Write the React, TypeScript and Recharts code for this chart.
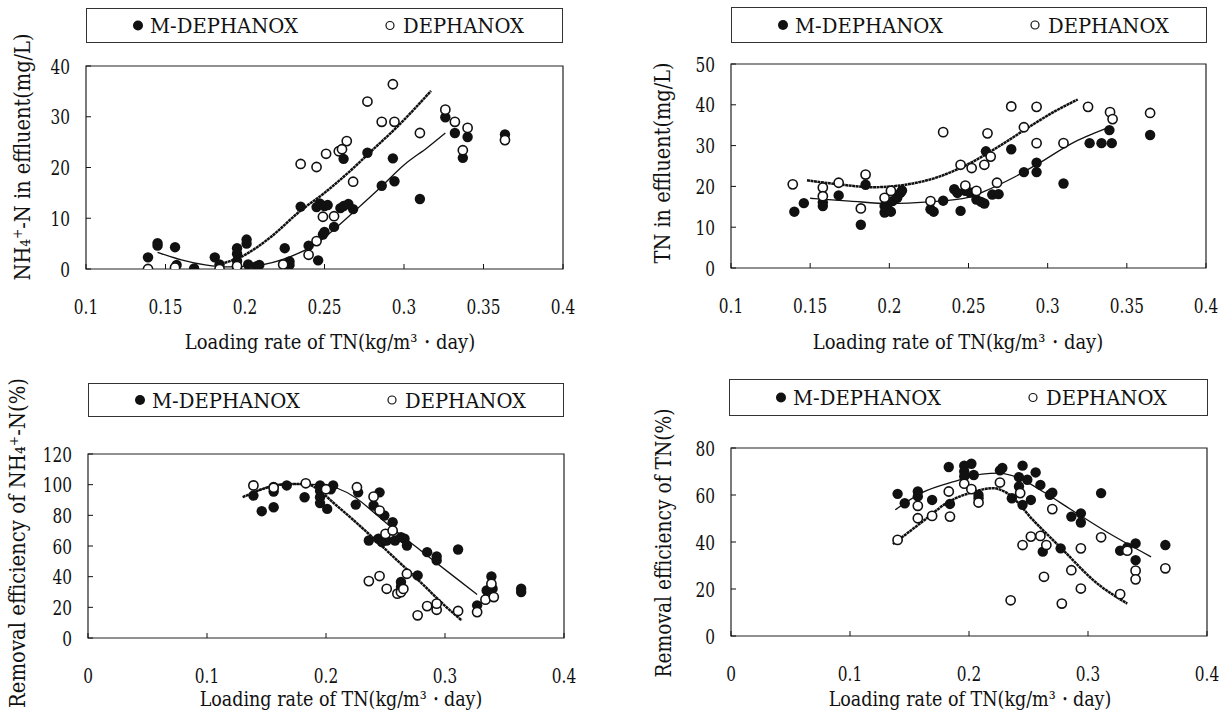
import React from "react";
import { ComposedChart, Scatter, Line, XAxis, YAxis, ReferenceArea, Label } from "recharts";

type Pt = [number, number];

// ---------- ticks ----------
const X_TICKS_TOP = [0.1, 0.15, 0.2, 0.25, 0.3, 0.35, 0.4];
const X_TICKS_BOTTOM = [0, 0.1, 0.2, 0.3, 0.4];
const Y_TICKS_NH4 = [0, 10, 20, 30, 40];
const Y_TICKS_TN = [0, 10, 20, 30, 40, 50];
const Y_TICKS_NH4_REM = [0, 20, 40, 60, 80, 100, 120];
const Y_TICKS_TN_REM = [0, 20, 40, 60, 80];

const SERIES_M = "M-DEPHANOX";
const SERIES_D = "DEPHANOX";

const X_TITLE = "Loading rate of TN(kg/m³・day)";
const Y_TITLE_NH4 = "NH₄⁺-N in effluent(mg/L)";
const Y_TITLE_TN = "TN in effluent(mg/L)";
const Y_TITLE_NH4_REM = "Removal efficiency of NH₄⁺-N(%)";
const Y_TITLE_TN_REM = "Removal efficiency of TN(%)";

// ---------- panel 1: NH4+-N in effluent ----------
const NH4_EFF_M: Pt[] = [
  [0.139, 2.3], [0.145, 5.1], [0.145, 4.6], [0.156, 4.3], [0.157, 0.8], [0.168, 0.1], [0.181, 2.3], [0.184, 0.9],
  [0.195, 4.1], [0.195, 3.0], [0.195, 1.6], [0.195, 0.3], [0.201, 5.8], [0.201, 5.0], [0.202, 0.9], [0.207, 0.5],
  [0.209, 0.8], [0.225, 4.1], [0.228, 1.5], [0.228, 0.8], [0.235, 12.3], [0.24, 4.6], [0.245, 12.2], [0.247, 12.9],
  [0.25, 12.4], [0.252, 12.6], [0.246, 1.7], [0.249, 6.8], [0.25, 7.3], [0.256, 8.3], [0.26, 12.0], [0.262, 12.4],
  [0.262, 21.7], [0.265, 12.8], [0.268, 11.8], [0.277, 22.9], [0.286, 16.4], [0.293, 21.8], [0.294, 17.3], [0.31, 13.8],
  [0.326, 29.9], [0.332, 26.8], [0.337, 21.9], [0.34, 26.0], [0.3635, 26.5],
];
const NH4_EFF_D: Pt[] = [
  [0.139, 0], [0.156, 0.3], [0.184, 0], [0.195, 0.6], [0.224, 0.9], [0.235, 20.7], [0.24, 2.8], [0.245, 20.1],
  [0.245, 5.5], [0.249, 10.3], [0.251, 22.7], [0.256, 10.4], [0.259, 23.2], [0.261, 23.6], [0.264, 25.2], [0.268, 17.2],
  [0.277, 33.0], [0.286, 29.0], [0.293, 36.4], [0.294, 29.0], [0.31, 26.8], [0.326, 31.4], [0.332, 29.0], [0.337, 23.4],
  [0.34, 27.8], [0.3635, 25.4],
];
const NH4_EFF_M_FIT: Pt[] = [
  [0.145, 3.3], [0.16, 1.8], [0.175, 0.8], [0.19, 0.4], [0.205, 0.6], [0.229, 2.5], [0.244, 4.8], [0.256, 7.8],
  [0.27, 11.7], [0.285, 16.0], [0.3, 20.5], [0.315, 24.0], [0.326, 26.8],
];
const NH4_EFF_D_FIT: Pt[] = [
  [0.185, 1.0], [0.2, 2.8], [0.215, 6.0], [0.235, 11.5], [0.25, 15.0], [0.265, 19.0], [0.28, 23.4], [0.295, 27.8], [0.317, 35.1],
];

// ---------- panel 2: TN in effluent ----------
const TN_EFF_M: Pt[] = [
  [0.14, 13.8], [0.146, 15.9], [0.158, 15.2], [0.158, 16.1], [0.168, 17.8], [0.182, 10.6], [0.185, 20.4], [0.197, 13.6],
  [0.197, 15.2], [0.199, 14.5], [0.201, 13.8], [0.202, 16.4], [0.205, 17.2], [0.207, 18.4], [0.208, 19.0], [0.226, 14.4],
  [0.228, 13.8], [0.234, 16.5], [0.241, 19.3], [0.243, 18.4], [0.245, 14.0], [0.248, 18.9], [0.251, 18.5], [0.255, 16.8],
  [0.258, 16.2], [0.26, 15.8], [0.261, 28.6], [0.265, 18.0], [0.269, 18.1], [0.277, 29.1], [0.285, 23.5], [0.293, 25.8],
  [0.293, 23.5], [0.31, 20.7], [0.3265, 30.6], [0.334, 30.6], [0.339, 33.8], [0.3405, 30.6], [0.3647, 32.6],
];
const TN_EFF_D: Pt[] = [
  [0.139, 20.5], [0.158, 19.7], [0.158, 17.6], [0.168, 20.9], [0.182, 14.6], [0.185, 22.9], [0.197, 17.2], [0.201, 18.9],
  [0.226, 16.4], [0.234, 33.3], [0.245, 25.3], [0.248, 20.2], [0.252, 24.5], [0.255, 18.9], [0.26, 25.3], [0.262, 33.0],
  [0.264, 27.3], [0.268, 20.9], [0.277, 39.6], [0.285, 34.5], [0.293, 39.5], [0.293, 30.6], [0.31, 30.6], [0.3255, 39.5],
  [0.3394, 38.2], [0.341, 36.5], [0.3647, 38.0],
];
const TN_EFF_M_FIT: Pt[] = [
  [0.15, 17.1], [0.175, 16.4], [0.2, 15.8], [0.225, 16.2], [0.25, 17.3], [0.26, 18.8], [0.28, 22.5], [0.295, 25.8],
  [0.315, 30.5], [0.337, 34.2],
];
const TN_EFF_D_FIT: Pt[] = [
  [0.148, 21.5], [0.168, 20.5], [0.19, 19.8], [0.21, 20.4], [0.23, 22.2], [0.25, 25.5], [0.27, 30.0], [0.29, 35.0],
  [0.305, 38.5], [0.319, 41.3],
];

// ---------- panel 3: removal efficiency of NH4+-N ----------
const NH4_REM_M: Pt[] = [
  [0.139, 92.9], [0.146, 82.7], [0.156, 85.3], [0.156, 95.5], [0.156, 98.5], [0.167, 99.5], [0.182, 91.8], [0.195, 99.5],
  [0.195, 96.0], [0.195, 91.8], [0.195, 88.0], [0.201, 84.2], [0.204, 97.0], [0.206, 99.5], [0.225, 87.0], [0.227, 95.0],
  [0.236, 63.6], [0.24, 86.4], [0.245, 95.0], [0.244, 64.7], [0.247, 62.5], [0.249, 79.9], [0.251, 63.6], [0.256, 75.5],
  [0.258, 63.6], [0.263, 65.8], [0.263, 36.5], [0.263, 33.5], [0.266, 64.7], [0.268, 60.3], [0.277, 40.8], [0.285, 56.0],
  [0.293, 53.2], [0.293, 50.6], [0.311, 57.7], [0.327, 21.3], [0.335, 31.0], [0.339, 40.1], [0.34, 32.1], [0.364, 32.1],
  [0.364, 30.0],
];
const NH4_REM_D: Pt[] = [
  [0.139, 99.5], [0.156, 98.0], [0.183, 100.9], [0.2, 97.0], [0.226, 98.3], [0.236, 37.1], [0.24, 92.2], [0.245, 40.4],
  [0.245, 83.1], [0.25, 67.9], [0.251, 32.1], [0.256, 70.1], [0.26, 28.9], [0.263, 29.9], [0.265, 32.0], [0.268, 41.9],
  [0.277, 14.8], [0.285, 20.8], [0.293, 18.4], [0.293, 22.4], [0.311, 17.6], [0.327, 16.9], [0.334, 25.0], [0.339, 35.4],
  [0.341, 26.7],
];
const NH4_REM_M_FIT: Pt[] = [
  [0.139, 95.0], [0.165, 100.5], [0.195, 100.0], [0.21, 97.5], [0.225, 91.5], [0.24, 82.0], [0.26, 69.0], [0.283, 55.0],
  [0.306, 41.0], [0.327, 28.4],
];
const NH4_REM_D_FIT: Pt[] = [
  [0.13, 91.8], [0.15, 98.0], [0.17, 100.5], [0.185, 100.0], [0.195, 96.0], [0.205, 89.0], [0.22, 79.0], [0.24, 65.0],
  [0.26, 50.5], [0.28, 36.0], [0.3, 21.0], [0.314, 11.5],
];

// ---------- panel 4: removal efficiency of TN ----------
const TN_REM_M: Pt[] = [
  [0.14, 60.5], [0.146, 56.5], [0.157, 61.5], [0.157, 59.4], [0.169, 57.9], [0.183, 71.9], [0.184, 56.2], [0.196, 72.5],
  [0.196, 70.0], [0.196, 67.9], [0.202, 73.3], [0.204, 68.5], [0.208, 58.6], [0.208, 60.0], [0.226, 70.5], [0.228, 71.5],
  [0.236, 58.6], [0.242, 67.6], [0.242, 63.6], [0.245, 72.5], [0.245, 55.8], [0.249, 66.5], [0.252, 57.9], [0.256, 69.6],
  [0.26, 64.3], [0.262, 35.9], [0.268, 60.1], [0.27, 61.0], [0.277, 37.3], [0.286, 50.8], [0.294, 52.2], [0.294, 48.3],
  [0.311, 60.8], [0.327, 36.3], [0.333, 37.7], [0.34, 39.4], [0.34, 32.3], [0.365, 38.7],
];
const TN_REM_D: Pt[] = [
  [0.14, 40.9], [0.157, 55.4], [0.157, 50.1], [0.169, 51.1], [0.183, 61.5], [0.184, 50.8], [0.196, 64.8], [0.202, 62.5],
  [0.208, 56.8], [0.226, 65.3], [0.235, 15.2], [0.243, 60.8], [0.245, 38.7], [0.252, 42.3], [0.26, 42.6], [0.263, 25.2],
  [0.265, 38.7], [0.27, 54.0], [0.278, 13.8], [0.286, 28.0], [0.294, 37.3], [0.294, 20.2], [0.311, 42.0], [0.327, 17.8],
  [0.333, 36.3], [0.34, 27.8], [0.34, 24.1], [0.365, 28.8],
];
const TN_REM_M_FIT: Pt[] = [
  [0.138, 53.7], [0.161, 61.1], [0.188, 65.8], [0.211, 68.9], [0.225, 69.3], [0.242, 67.2], [0.262, 61.5], [0.286, 53.7],
  [0.313, 45.1], [0.353, 33.7],
];
const TN_REM_D_FIT: Pt[] = [
  [0.136, 39.1], [0.161, 48.7], [0.181, 56.5], [0.205, 61.5], [0.22, 62.9], [0.232, 60.8], [0.255, 48.7], [0.279, 36.6],
  [0.306, 23.1], [0.333, 13.8],
];

// ---------- styling ----------
const FONT = "DejaVu Serif";
const INK = "#111";
const TICK_FONT = 21;
const TICK_SQUEEZE = 0.73;
const PAGE_W = 1226;

const toObj = (arr: Pt[]) => arr.map(([x, y]) => ({ x, y }));

// text squeezed horizontally (via transform) to a target length, optionally rotated
function FitText(props: { x: number; y: number; rotate: number; target: number; fontSize: number; text: string }) {
  const ref = React.useRef<SVGTextElement>(null);
  const [sx, setSx] = React.useState(0.8);
  React.useLayoutEffect(() => {
    const el = ref.current;
    if (el) {
      const n = el.getComputedTextLength();
      if (n > 0) setSx(props.target / n);
    }
  }, [props.target, props.text, props.fontSize]);
  return (
    <g transform={`translate(${props.x} ${props.y}) rotate(${props.rotate}) scale(${sx} 1)`}>
      <text ref={ref} x={0} y={0} textAnchor="middle" fontSize={props.fontSize} fontFamily={FONT} fill={INK}>
        {props.text}
      </text>
    </g>
  );
}

const XTick = (props: any) => {
  const { x, y, payload } = props;
  const s = String(payload.value);
  return (
    <g>
      <line x1={x} x2={x} y1={y} y2={y - 5} stroke={INK} strokeWidth={1} />
      <g transform={`translate(${x} ${y + 45}) scale(${TICK_SQUEEZE} 1)`}>
        <text x={0} y={0} textAnchor="middle" fontSize={TICK_FONT} fontFamily={FONT} fill={INK}>
          {s}
        </text>
      </g>
    </g>
  );
};

const YTick = (props: any) => {
  const { x, y, payload } = props;
  const s = String(payload.value);
  return (
    <g>
      <line x1={x} x2={x + 5} y1={y} y2={y} stroke={INK} strokeWidth={1} />
      <g transform={`translate(${x - 16} ${y + 7.5}) scale(${TICK_SQUEEZE} 1)`}>
        <text x={0} y={0} textAnchor="end" fontSize={TICK_FONT} fontFamily={FONT} fill={INK}>
          {s}
        </text>
      </g>
    </g>
  );
};

const FilledDot = (props: any) => <circle cx={props.cx} cy={props.cy} r={5.2} fill={INK} />;
const OpenDot = (props: any) => (
  <circle cx={props.cx} cy={props.cy} r={4.6} fill="#fff" stroke={INK} strokeWidth={1.6} />
);

type Rect = [number, number, number, number];

interface PanelProps {
  plot: Rect;
  legend: Rect;
  xDomain: [number, number];
  xTicks: number[];
  yDomain: [number, number];
  yTicks: number[];
  mPts: Pt[];
  dPts: Pt[];
  mFit: Pt[];
  dFit: Pt[];
  yTitle: string;
  yTitleCenter: [number, number];
  yTitleLen: number;
  xTitleAt: [number, number];
  xTitleLen: number;
}

function LegendBox({ rect }: { rect: Rect }) {
  const [l, t, r, b] = rect;
  const w = r - l;
  const h = b - t;
  const base = h / 2 + 7.5;
  return (
    <div style={{ position: "absolute", left: l, top: t, width: w, height: h }}>
      <svg width={w} height={h} style={{ display: "block" }}>
        <rect x={0.5} y={0.5} width={w - 1} height={h - 1} fill="#fff" stroke="#333" strokeWidth={1} />
        <circle cx={52} cy={h / 2} r={5} fill={INK} />
        <text
          x={64}
          y={base}
          fontSize={21}
          fontFamily={FONT}
          fill={INK}
          textLength={148}
          lengthAdjust="spacingAndGlyphs"
        >
          {SERIES_M}
        </text>
        <circle cx={304} cy={h / 2} r={4} fill="#fff" stroke={INK} strokeWidth={1.2} />
        <text
          x={317}
          y={base}
          fontSize={21}
          fontFamily={FONT}
          fill={INK}
          textLength={121}
          lengthAdjust="spacingAndGlyphs"
        >
          {SERIES_D}
        </text>
      </svg>
    </div>
  );
}

function Panel(p: PanelProps) {
  const [pl, pt, pr, pb] = p.plot;
  const leftPad = Math.min(100, pl);
  const topPad = Math.min(90, pt);
  const rightPad = Math.min(40, PAGE_W - pr);
  const chartLeft = pl - leftPad;
  const chartTop = pt - topPad;
  const width = pr - pl + leftPad + rightPad;
  const height = p.xTitleAt[1] + 9 - chartTop;
  const xAxisH = 50;
  const marginBottom = height - topPad - (pb - pt) - xAxisH;
  const yTx = p.yTitleCenter[0] + 8 - chartLeft;
  const yTy = p.yTitleCenter[1] - chartTop;
  const xTx = p.xTitleAt[0] - chartLeft;
  const xTy = p.xTitleAt[1] - chartTop;
  return (
    <>
      <div style={{ position: "absolute", left: chartLeft, top: chartTop }}>
        <ComposedChart
          width={width}
          height={height}
          margin={{ top: topPad, right: rightPad, left: leftPad - 60, bottom: marginBottom }}
        >
          <XAxis
            dataKey="x"
            type="number"
            domain={p.xDomain}
            ticks={p.xTicks}
            interval={0}
            allowDataOverflow
            axisLine={false}
            tickLine={false}
            tickSize={0}
            tickMargin={0}
            height={xAxisH}
            tick={<XTick />}
          >
            <Label
              content={() => (
                <FitText x={xTx} y={xTy} rotate={0} target={p.xTitleLen} fontSize={21} text={X_TITLE} />
              )}
            />
          </XAxis>
          <YAxis
            dataKey="y"
            type="number"
            domain={p.yDomain}
            ticks={p.yTicks}
            interval={0}
            allowDataOverflow
            axisLine={false}
            tickLine={false}
            tickSize={0}
            tickMargin={0}
            width={60}
            tick={<YTick />}
          >
            <Label
              content={() => (
                <FitText x={yTx} y={yTy} rotate={-90} target={p.yTitleLen} fontSize={23} text={p.yTitle} />
              )}
            />
          </YAxis>
          <ReferenceArea
            x1={p.xDomain[0]}
            x2={p.xDomain[1]}
            y1={p.yDomain[0]}
            y2={p.yDomain[1]}
            fill="none"
            fillOpacity={0}
            stroke="#222"
            strokeWidth={1.2}
            ifOverflow="visible"
          />
          <Scatter name={SERIES_M} data={toObj(p.mPts)} shape={<FilledDot />} isAnimationActive={false} />
          <Scatter name={SERIES_D} data={toObj(p.dPts)} shape={<OpenDot />} isAnimationActive={false} />
          <Line
            data={toObj(p.mFit)}
            dataKey="y"
            type="monotone"
            stroke={INK}
            strokeWidth={1.3}
            dot={false}
            activeDot={false}
            isAnimationActive={false}
            legendType="none"
          />
          <Line
            data={toObj(p.dFit)}
            dataKey="y"
            type="monotone"
            stroke={INK}
            strokeWidth={2.5}
            strokeDasharray="3 0.5"
            dot={false}
            activeDot={false}
            isAnimationActive={false}
            legendType="none"
          />
        </ComposedChart>
      </div>
      <LegendBox rect={p.legend} />
    </>
  );
}

export default function App() {
  return (
    <div
      style={{
        position: "absolute",
        left: 0,
        top: 0,
        width: PAGE_W,
        height: 716,
        overflow: "hidden",
        background: "#fff",
      }}
    >
      <Panel
        plot={[86, 66, 563, 269]}
        legend={[86, 8, 563, 43]}
        xDomain={[0.1, 0.4]}
        xTicks={X_TICKS_TOP}
        yDomain={[0, 40]}
        yTicks={Y_TICKS_NH4}
        mPts={NH4_EFF_M}
        dPts={NH4_EFF_D}
        mFit={NH4_EFF_M_FIT}
        dFit={NH4_EFF_D_FIT}
        yTitle={Y_TITLE_NH4}
        yTitleCenter={[22, 157]}
        yTitleLen={247}
        xTitleAt={[330, 349]}
        xTitleLen={290}
      />
      <Panel
        plot={[731, 64, 1206, 268]}
        legend={[731, 7, 1207, 43]}
        xDomain={[0.1, 0.4]}
        xTicks={X_TICKS_TOP}
        yDomain={[0, 50]}
        yTicks={Y_TICKS_TN}
        mPts={TN_EFF_M}
        dPts={TN_EFF_D}
        mFit={TN_EFF_M_FIT}
        dFit={TN_EFF_D_FIT}
        yTitle={Y_TITLE_TN}
        yTitleCenter={[662, 163]}
        yTitleLen={201}
        xTitleAt={[958, 349]}
        xTitleLen={290}
      />
      <Panel
        plot={[88, 454, 564, 638]}
        legend={[88, 383, 564, 417]}
        xDomain={[0, 0.4]}
        xTicks={X_TICKS_BOTTOM}
        yDomain={[0, 120]}
        yTicks={Y_TICKS_NH4_REM}
        mPts={NH4_REM_M}
        dPts={NH4_REM_D}
        mFit={NH4_REM_M_FIT}
        dFit={NH4_REM_D_FIT}
        yTitle={Y_TITLE_NH4_REM}
        yTitleCenter={[17, 543]}
        yTitleLen={330}
        xTitleAt={[341, 706]}
        xTitleLen={283}
      />
      <Panel
        plot={[731, 448, 1207, 636]}
        legend={[729, 379, 1208, 416]}
        xDomain={[0, 0.4]}
        xTicks={X_TICKS_BOTTOM}
        yDomain={[0, 80]}
        yTicks={Y_TICKS_TN_REM}
        mPts={TN_REM_M}
        dPts={TN_REM_D}
        mFit={TN_REM_M_FIT}
        dFit={TN_REM_D_FIT}
        yTitle={Y_TITLE_TN_REM}
        yTitleCenter={[663, 543]}
        yTitleLen={269}
        xTitleAt={[970, 706]}
        xTitleLen={283}
      />
    </div>
  );
}
